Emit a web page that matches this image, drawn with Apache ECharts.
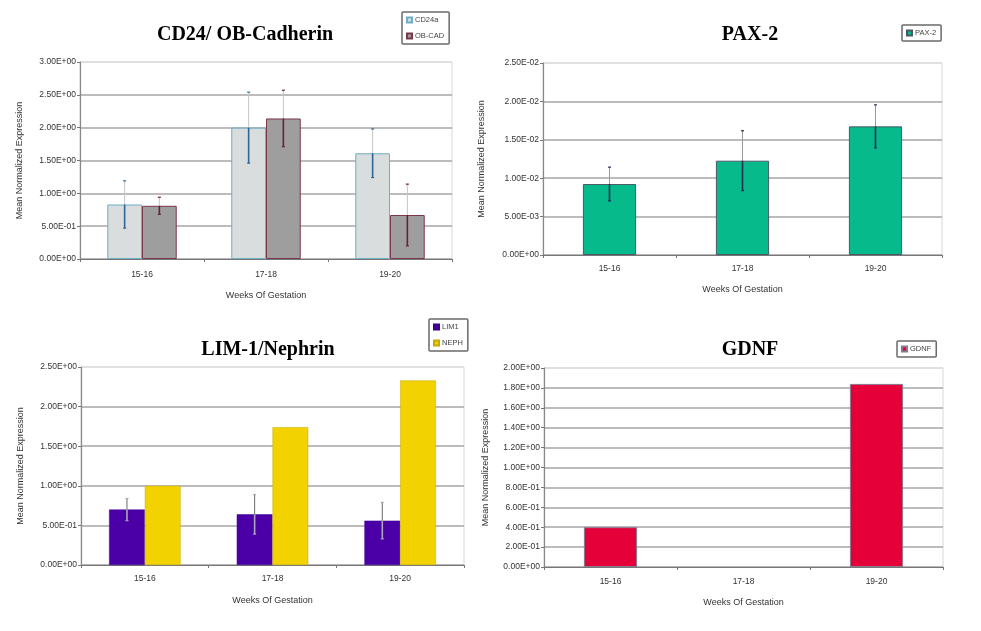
<!DOCTYPE html>
<html>
<head>
<meta charset="utf-8">
<title>Gene expression by gestation week</title>
<script src="https://cdn.jsdelivr.net/npm/echarts@6/dist/echarts.min.js"></script>
<style>
  html, body { margin: 0; padding: 0; background: #fff; }
  #chart { width: 981px; height: 631px; }
</style>
</head>
<body>
<div id="chart"></div>
<script>
// weeks of gestation, shared by all four panels
const weeks = ['15-16', '17-18', '19-20'];

// CD24 / OB-Cadherin
const cd24 = [0.83, 2.00, 1.61];
const cd24Err = [0.36, 0.54, 0.37];
const obcad = [0.81, 2.14, 0.67];
const obcadErr = [0.13, 0.43, 0.47];
const ticks1 = ['0.00E+00', '5.00E-01', '1.00E+00', '1.50E+00', '2.00E+00', '2.50E+00', '3.00E+00'];

// PAX-2
const pax2 = [0.00924, 0.01228, 0.01675];
const pax2Err = [0.0022, 0.0039, 0.0028];
const ticks2 = ['0.00E+00', '5.00E-03', '1.00E-02', '1.50E-02', '2.00E-02', '2.50E-02'];

// LIM-1 / Nephrin
const lim1 = [0.70, 0.64, 0.56];
const lim1Err = [0.14, 0.25, 0.23];
const neph = [1.00, 1.74, 2.33];
const ticks3 = ['0.00E+00', '5.00E-01', '1.00E+00', '1.50E+00', '2.00E+00', '2.50E+00'];

// GDNF (no bar at 17-18)
const gdnf = [0.40, null, 1.84];
const ticks4 = ['0.00E+00', '2.00E-01', '4.00E-01', '6.00E-01', '8.00E-01', '1.00E+00',
  '1.20E+00', '1.40E+00', '1.60E+00', '1.80E+00', '2.00E+00'];

const SANS = '"Liberation Sans", Arial, sans-serif';
const SERIF = '"Liberation Serif", "Times New Roman", serif';

function withErr(values, errs) {
  return values.map((v, i) => [i, v, errs[i]]);
}

// error bar drawn through the axis scale; off = shift in band widths
function errorSeries(idx, values, errs, off, upColor, downColor) {
  return {
    type: 'custom',
    xAxisIndex: idx,
    yAxisIndex: idx,
    z: 5,
    silent: true,
    data: withErr(values, errs),
    renderItem(params, api) {
      const i = api.value(0);
      const v = api.value(1);
      const e = api.value(2);
      const band = api.size([1, 0])[0];
      const cx = api.coord([i, v])[0] + off * band;
      const yTop = api.coord([i, v + e])[1];
      const yMid = api.coord([i, v])[1];
      const yBot = api.coord([i, v - e])[1];
      return {
        type: 'group',
        children: [
          { type: 'line', shape: { x1: cx, y1: yTop, x2: cx, y2: yMid }, style: { stroke: upColor, lineWidth: 1 } },
          { type: 'line', shape: { x1: cx, y1: yMid, x2: cx, y2: yBot }, style: { stroke: downColor, lineWidth: 1.6 } },
          { type: 'line', shape: { x1: cx - 1.5, y1: yTop, x2: cx + 1.5, y2: yTop }, style: { stroke: downColor, lineWidth: 1.2 } },
          { type: 'line', shape: { x1: cx - 1.5, y1: yBot, x2: cx + 1.5, y2: yBot }, style: { stroke: downColor, lineWidth: 1.2 } },
        ],
      };
    },
  };
}

function xAxis(idx, labelMargin, nameGap) {
  return {
    type: 'category',
    gridIndex: idx,
    data: weeks,
    name: 'Weeks Of Gestation',
    nameLocation: 'middle',
    nameGap,
    nameTextStyle: { fontFamily: SANS, fontSize: 9, color: '#333' },
    axisLine: { lineStyle: { color: '#777', width: 1.2 } },
    axisTick: { show: true, length: 3, lineStyle: { color: '#777' } },
    axisLabel: { fontFamily: SANS, fontSize: 8.5, color: '#333', margin: labelMargin },
  };
}

function yAxis(idx, max, interval, ticks, nameGap) {
  const n = ticks.length;
  const gridColors = ticks.map((t, k) => (k === n - 1 ? '#dcdcdc' : '#a6a6a6'));
  return {
    type: 'value',
    gridIndex: idx,
    min: 0,
    max,
    interval,
    name: 'Mean Normalized Expression',
    nameLocation: 'middle',
    nameGap,
    nameTextStyle: { fontFamily: SANS, fontSize: 9, color: '#333' },
    axisLine: { show: true, lineStyle: { color: '#888', width: 1.2 } },
    axisTick: { show: true, length: 3, lineStyle: { color: '#777' } },
    axisLabel: {
      fontFamily: SANS, fontSize: 8.5, color: '#333', margin: 4,
      formatter: (value, index) => ticks[index] ?? '',
    },
    splitLine: { show: true, lineStyle: { color: gridColors, width: 1.6 } },
  };
}

function title(text, x, y) {
  return {
    text,
    left: x,
    top: y,
    textAlign: 'center',
    textStyle: { fontFamily: SERIF, fontWeight: 'bold', fontSize: 20, color: '#000' },
  };
}

function legend(names, x, y) {
  return {
    data: names,
    left: x,
    top: y,
    orient: 'vertical',
    backgroundColor: '#fff',
    borderColor: '#6a6a6a',
    borderWidth: 1.5,
    borderRadius: 1,
    padding: [4, 5, 4, 4],
    itemWidth: 5,
    itemHeight: 5,
    itemGap: 8,
    icon: 'rect',
    selectedMode: false,
    textStyle: { fontFamily: SANS, fontSize: 7.5, color: '#444', padding: [0, 0, 0, -2] },
  };
}

const chart = echarts.init(document.getElementById('chart'), null, { renderer: 'canvas' });

chart.setOption({
  backgroundColor: '#fff',
  animation: false,
  title: [
    title('CD24/ OB-Cadherin', 240, 20),
    title('PAX-2', 745, 20),
    title('LIM-1/Nephrin', 263, 335),
    title('GDNF', 745, 335),
  ],
  legend: [
    legend(['CD24a', 'OB-CAD'], 402, 12),
    legend(['PAX-2'], 902, 25),
    legend(['LIM1', 'NEPH'], 429, 319),
    legend(['GDNF'], 897, 341),
  ],
  grid: [
    { left: 80, top: 62, width: 372, height: 197, show: true, borderColor: '#d8d8d8', borderWidth: 1 },
    { left: 543, top: 63, width: 399, height: 192, show: true, borderColor: '#d8d8d8', borderWidth: 1 },
    { left: 81, top: 367, width: 383, height: 198, show: true, borderColor: '#d8d8d8', borderWidth: 1 },
    { left: 544, top: 368, width: 399, height: 199, show: true, borderColor: '#d8d8d8', borderWidth: 1 },
  ],
  xAxis: [
    xAxis(0, 11, 32),
    xAxis(1, 9, 30),
    xAxis(2, 9, 31),
    xAxis(3, 10, 31),
  ],
  yAxis: [
    yAxis(0, 3, 0.5, ticks1, 56),
    yAxis(1, 0.025, 0.005, ticks2, 57),
    yAxis(2, 2.5, 0.5, ticks3, 56),
    yAxis(3, 2, 0.2, ticks4, 54),
  ],
  series: [
    {
      name: 'CD24a', type: 'bar', xAxisIndex: 0, yAxisIndex: 0, data: cd24,
      barWidth: '28%', barGap: '0%',
      itemStyle: { color: '#d9dddd', borderColor: '#6eaec6', borderWidth: 1 },
    },
    {
      name: 'OB-CAD', type: 'bar', xAxisIndex: 0, yAxisIndex: 0, data: obcad,
      barWidth: '28%', barGap: '0%',
      itemStyle: { color: '#9e9e9e', borderColor: '#7a3848', borderWidth: 1 },
    },
    errorSeries(0, cd24, cd24Err, -0.14, '#c4c4c4', '#2f6796'),
    errorSeries(0, obcad, obcadErr, 0.14, '#c4c4c4', '#6a2030'),
    {
      name: 'PAX-2', type: 'bar', xAxisIndex: 1, yAxisIndex: 1, data: pax2,
      barWidth: '40%',
      itemStyle: { color: '#06ba8b', borderColor: '#4a5866', borderWidth: 1 },
    },
    errorSeries(1, pax2, pax2Err, 0, '#9a9a9a', '#23304e'),
    {
      name: 'LIM1', type: 'bar', xAxisIndex: 2, yAxisIndex: 2, data: lim1,
      barWidth: '28%', barGap: '0%',
      itemStyle: { color: '#4a00a6', borderColor: '#3a0090', borderWidth: 0.5 },
    },
    {
      name: 'NEPH', type: 'bar', xAxisIndex: 2, yAxisIndex: 2, data: neph,
      barWidth: '28%', barGap: '0%',
      itemStyle: { color: '#f2d200', borderColor: '#c9a800', borderWidth: 0.5 },
    },
    errorSeries(2, lim1, lim1Err, -0.14, '#6a6a6a', '#a8a8b8'),
    {
      name: 'GDNF', type: 'bar', xAxisIndex: 3, yAxisIndex: 3, data: gdnf,
      barWidth: '40%',
      itemStyle: { color: '#e6003a', borderColor: '#8a7890', borderWidth: 1 },
    },
  ],
});
</script>
</body>
</html>
